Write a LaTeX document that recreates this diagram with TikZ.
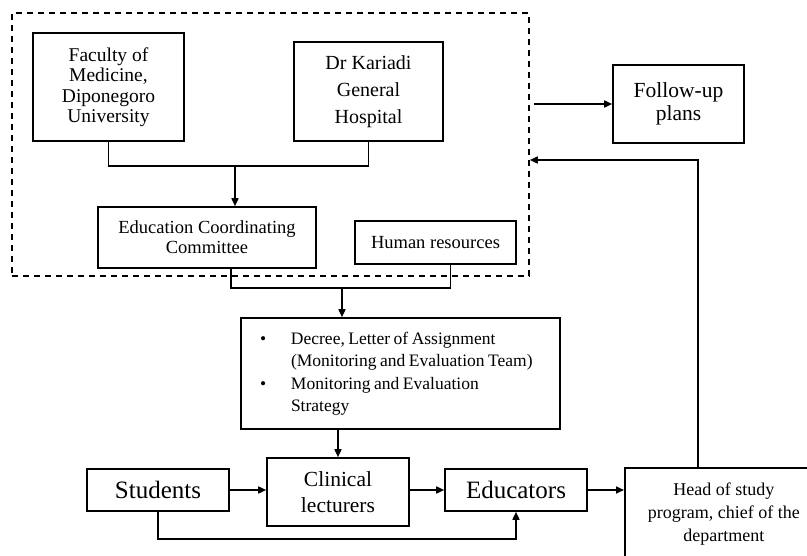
\documentclass[tikz,border=0pt]{standalone}
\usepackage{fontspec}
\setmainfont{Liberation Serif}
\usepackage{array}
\usetikzlibrary{arrows.meta}
\tikzset{box/.style = {draw, line width = 1.6, align = center, inner sep = 0}}
\tikzset{group/.style = {draw, line width = 1.6, dash pattern = on 6pt off 5pt, inner sep = 0}}
\tikzset{link/.style = {line width = 1.6}}
\tikzset{arr/.style = {line width = 1.6, -{Triangle[length = 8pt, width = 7pt]}}}

\begin{document}
\begin{tikzpicture}[x = 1pt, y = -1pt]
    \useasboundingbox (0, 0) rectangle (807, 556);
    \clip (0, 0) rectangle (807, 556);

    \node [group, minimum width = 517, minimum height = 263] (grp) at (270.5, 144.5) {};

    \node [box, minimum width = 151, minimum height = 108, font = \fontsize{19.5}{20.5}\selectfont] (fac) at (108.5, 87) {Faculty of\\ Medicine,\\ Diponegoro\\ University};
    \node [box, minimum width = 149, minimum height = 99, font = \fontsize{20}{27}\selectfont] (kar) at (368.5, 91.5) {Dr Kariadi\\ General\\ Hospital};
    \node [box, minimum width = 218, minimum height = 61, font = \fontsize{18.5}{20}\selectfont] (ecc) at (207, 237.5) {Education Coordinating\\ Committee};
    \node [box, minimum width = 161, minimum height = 43, font = \fontsize{18.5}{20}\selectfont] (hr) at (435.5, 242.5) {Human resources};

    \node [box, minimum width = 131, minimum height = 78, font = \fontsize{21.5}{23}\selectfont] (fol) at (678.5, 104) {Follow-up\\ plans};

    \node [box, minimum width = 319, minimum height = 111, inner xsep = 19, text width = 281, align = left, font = \fontsize{17.5}{22.5}\selectfont] (dec) at (400.5, 373.5)
        {\spaceskip = 0.2em \begin{tabular}{@{}p{31pt}@{}l@{}}
            \textbullet & Decree, Letter of Assignment\\
                        & (Monitoring and Evaluation Team)\\
            \textbullet & Monitoring and Evaluation\\
                        & Strategy
        \end{tabular}};

    \node [box, minimum width = 142, minimum height = 42, font = \fontsize{25}{26}\selectfont] (stu) at (158, 490) {Students};
    \node [box, minimum width = 142, minimum height = 68, font = \fontsize{21.5}{26}\selectfont] (cli) at (338, 492) {Clinical\\ lecturers};
    \node [box, minimum width = 142, minimum height = 42, font = \fontsize{25}{26}\selectfont] (edu) at (516, 490) {Educators};
    \node [box, anchor = north west, minimum width = 198, minimum height = 92, font = \fontsize{18}{23}\selectfont] (head) at (624, 467) {Head of study\\ program, chief of the\\ department};

    % joins
    \coordinate (join1) at (235, 166);
    \coordinate (join2) at (342, 288);
    \coordinate (back) at (698, 160);

    \draw [link] (fac.south) |- (join1) -| (kar.south);
    \draw [arr] (join1) -- (join1 |- ecc.north);

    \draw [link] ([xshift = 24]ecc.south) |- (join2) -| ([xshift = 15]hr.south);
    \draw [arr] (join2) -- (join2 |- dec.north);

    \draw [arr] (cli.north |- dec.south) -- (cli.north);

    \draw [arr] (stu.east) -- (stu.east -| cli.west);
    \draw [arr] (edu.west -| cli.east) -- (edu.west);
    \draw [arr] (edu.east) -- (edu.east -| head.west);
    \draw [arr] (stu.south) -- ++(0, 27) -| (edu.south);

    \draw [arr] (back |- head.north) -- (back) -- (back -| grp.east);
    \draw [arr, shorten < = 4] (fol.west -| grp.east) -- (fol.west);

\end{tikzpicture}
\end{document}
